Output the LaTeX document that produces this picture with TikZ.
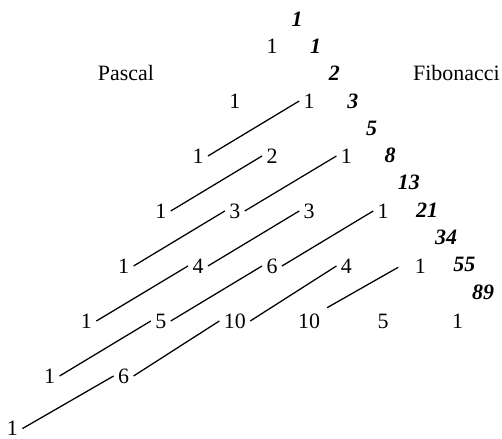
\documentclass[tikz,border=0pt]{standalone}
\usepackage{fontspec}
\setmainfont{Liberation Serif}
\usetikzlibrary{positioning}

\begin{document}
\begin{tikzpicture}[
  every node/.style={font=\fontsize{15.6}{18}\selectfont, inner sep=3pt},
  pnum/.style={},
  fnum/.style={font=\fontsize{15.6}{18}\selectfont\bfseries\itshape},
  lbl/.style={font=\fontsize{15.6}{18}\selectfont},
  diag/.style={line width=0.9pt, black},
]
  \useasboundingbox (0,0) rectangle (12.55,10.975);

  % Headers
  \node[lbl] (pascal) at (3.15, 9.15) {Pascal};
  \node[lbl] (fibo) at (11.41, 9.15) {Fibonacci};

  % Pascal triangle
  \node[pnum] (p00) at (6.80, 9.825) {1};

  \node[pnum] (p10) at (5.87, 8.45) {1};
  \node[pnum] (p11) at (7.73, 8.45) {1};

  \node[pnum] (p20) at (4.95, 7.075) {1};
  \node[pnum] (p21) at (6.80, 7.075) {2};
  \node[pnum] (p22) at (8.66, 7.075) {1};

  \node[pnum] (p30) at (4.02, 5.70) {1};
  \node[pnum] (p31) at (5.87, 5.70) {3};
  \node[pnum] (p32) at (7.73, 5.70) {3};
  \node[pnum] (p33) at (9.58, 5.70) {1};

  \node[pnum] (p40) at (3.09, 4.325) {1};
  \node[pnum] (p41) at (4.95, 4.325) {4};
  \node[pnum] (p42) at (6.80, 4.325) {6};
  \node[pnum] (p43) at (8.66, 4.325) {4};
  \node[pnum] (p44) at (10.51, 4.325) {1};

  \node[pnum] (p50) at (2.16, 2.95) {1};
  \node[pnum] (p51) at (4.02, 2.95) {5};
  \node[pnum] (p52) at (5.87, 2.95) {10};
  \node[pnum] (p53) at (7.73, 2.95) {10};
  \node[pnum] (p54) at (9.58, 2.95) {5};
  \node[pnum] (p55) at (11.44, 2.95) {1};

  \node[pnum] (p60) at (1.24, 1.575) {1};
  \node[pnum] (p61) at (3.09, 1.575) {6};

  \node[pnum] (p70) at (0.31, 0.26) {1};

  % Shallow diagonals
  \draw[diag] (p20.east) -- (p11.west);
  \draw[diag] (p30.east) -- (p21.west);
  \draw[diag] (p31.east) -- (p22.west);
  \draw[diag] (p40.east) -- (p31.west);
  \draw[diag] (p41.east) -- (p32.west);
  \draw[diag] (p42.east) -- (p33.west);
  \draw[diag] (p50.east) -- (p41.west);
  \draw[diag] (p51.east) -- (p42.west);
  \draw[diag] (p52.east) -- (p43.west);
  \draw[diag, shorten <=2pt, shorten >=10pt] (p53.north east) -- ([yshift=4pt]p44.west);
  \draw[diag] (p60.east) -- (p51.west);
  \draw[diag] (p61.east) -- (p52.west);
  \draw[diag] (p70.east) -- (p61.west);

  % Fibonacci sums
  \node[fnum] (f1) at (7.43, 10.50) {1};
  \node[fnum] (f2) at (7.89, 9.82) {1};
  \node[fnum] (f3) at (8.36, 9.135) {2};
  \node[fnum] (f4) at (8.82, 8.45) {3};
  \node[fnum] (f5) at (9.29, 7.77) {5};
  \node[fnum] (f6) at (9.75, 7.09) {8};
  \node[fnum] (f7) at (10.22, 6.405) {13};
  \node[fnum] (f8) at (10.68, 5.72) {21};
  \node[fnum] (f9) at (11.15, 5.04) {34};
  \node[fnum] (f10) at (11.61, 4.36) {55};
  \node[fnum] (f11) at (12.08, 3.675) {89};
\end{tikzpicture}
\end{document}
